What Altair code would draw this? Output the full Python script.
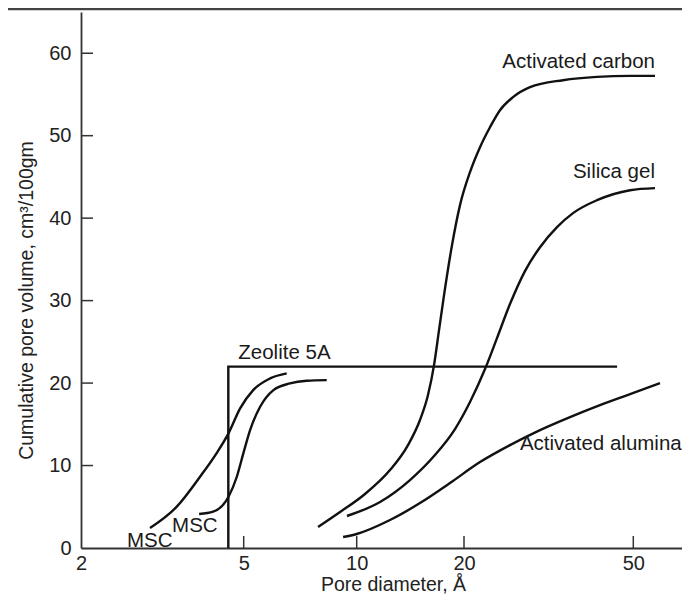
import altair as alt
import pandas as pd

# ---- data (pore diameter in Å, cumulative volume cm3/100 g) ----
x_ticks = [2, 5, 10, 20, 50]
y_ticks = [0, 10, 20, 30, 40, 50, 60]

carbon_d = [7.89, 9.03, 10.55, 12.40, 13.93, 15.05, 15.85, 16.48, 17.02, 17.58, 18.51,
            19.49, 20.66, 21.81, 23.02, 24.30, 26.07, 28.59, 34.18, 41.08, 49.13, 56.23]
carbon_v = [2.55, 4.36, 6.55, 9.45, 12.48, 15.52, 18.55, 22.18, 26.42, 30.67, 36.73,
            41.58, 45.58, 48.61, 51.03, 53.09, 54.67, 55.88, 56.73, 57.13, 57.25, 57.25]

silica_d = [9.42, 11.63, 14.11, 16.58, 18.87, 20.66, 22.41, 23.91, 25.65, 27.82, 30.18,
            33.09, 36.08, 41.08, 49.13, 56.23]
silica_v = [3.88, 5.58, 8.24, 11.27, 14.42, 17.70, 21.70, 25.45, 29.58, 33.58, 36.48,
            38.91, 40.61, 42.18, 43.39, 43.64]

alumina_d = [9.20, 10.0, 12.40, 15.05, 18.27, 21.81, 25.65, 30.18, 35.50, 41.75, 49.13, 57.78]
alumina_v = [1.33, 1.70, 3.39, 5.45, 7.88, 10.42, 12.48, 14.30, 15.88, 17.33, 18.67, 20.0]

msc1_d = [2.95, 3.43, 3.91, 4.29, 4.59, 4.90, 5.30, 5.88, 6.51]
msc1_v = [2.42, 5.01, 8.64, 11.48, 13.90, 16.93, 19.15, 20.57, 21.18]

msc2_d = [3.89, 4.21, 4.59, 4.81, 4.99, 5.20, 5.53, 6.00, 6.64, 7.36, 8.32]
msc2_v = [4.12, 4.40, 6.22, 8.64, 11.48, 14.30, 17.13, 19.15, 19.96, 20.28, 20.36]

zeolite_d = [4.585, 4.585, 45.8]
zeolite_v = [0, 22, 22]

label_text = ["Activated carbon", "Silica gel", "Activated alumina"]
label_d = [56.23, 56.23, 65.0]
label_v = [58.18, 44.85, 11.88]

label2_text = ["Zeolite 5A", "MSC", "MSC"]
label2_d = [4.85, 2.59, 3.34]
label2_v = [22.91, 0.16, 1.98]

# ---- tables ----
rows = []
for name, ds, vs in [("Activated carbon", carbon_d, carbon_v),
                     ("Silica gel", silica_d, silica_v),
                     ("Activated alumina", alumina_d, alumina_v),
                     ("MSC 1", msc1_d, msc1_v),
                     ("MSC 2", msc2_d, msc2_v)]:
    for i, (d, v) in enumerate(zip(ds, vs)):
        rows.append({"series": name, "i": i, "d": d, "v": v})
curves = pd.DataFrame(rows)
zeo = pd.DataFrame({"series": "Zeolite 5A", "i": list(range(len(zeolite_d))),
                    "d": zeolite_d, "v": zeolite_v})
lab1 = pd.DataFrame({"label": label_text, "d": label_d, "v": label_v})
lab2 = pd.DataFrame({"label": label2_text, "d": label2_d, "v": label2_v})
xt = pd.DataFrame({"d": x_ticks[1:], "v": 0.0, "v2": 1.45})
yt = pd.DataFrame({"v": y_ticks[1:], "d": 2.0, "d2": 2.14})

FONT = "Liberation Sans"
INK = "#111111"

# hand-drawn log axis of the original: tick positions calibrated piecewise
x_scale = alt.Scale(type="log", domain=[2, 5, 10, 20, 50, 65.1],
                    range=[0, 162.7, 275.7, 383, 552.3, 601], nice=False)
y_scale = alt.Scale(domain=[0, 65], nice=False)

x_axis = alt.Axis(values=x_ticks, format="d", title="Pore diameter, Å", grid=False,
                  ticks=False, tickSize=0, labelFlush=False, labelOverlap=False,
                  labelPadding=5, labelFontSize=20, labelFont=FONT, labelColor="#222222",
                  domainColor="#333333", domainWidth=1.8,
                  titleFont=FONT, titleFontSize=19.5, titleFontWeight="normal",
                  titleColor="#222222", titleX=312, titleY=42.8, titleBaseline="alphabetic",
                  titleAlign="center")
y_axis = alt.Axis(values=y_ticks, format="d", title="Cumulative pore volume, cm³/100gm",
                  grid=False, ticks=False, tickSize=0, labelPadding=10, labelFontSize=20,
                  labelFont=FONT, labelColor="#222222", domainColor="#333333",
                  domainWidth=1.8, titleFont=FONT, titleFontSize=19.5,
                  titleFontWeight="normal", titleColor="#222222", titleX=-49, titleY=288,
                  titleAngle=270, titleAlign="center", titleBaseline="alphabetic")


def X(field="d"):
    return alt.X(field, type="quantitative", scale=x_scale, axis=x_axis)


def Y(field="v"):
    return alt.Y(field, type="quantitative", scale=y_scale, axis=y_axis)


curve_layer = alt.Chart(curves).mark_line(
    color=INK, strokeWidth=2.4, interpolate="monotone"
).encode(x=X(), y=Y(), detail="series:N", order="i:Q")

zeo_layer = alt.Chart(zeo).mark_line(color=INK, strokeWidth=2.4).encode(
    x=X(), y=Y(), order="i:Q")

xtick_layer = alt.Chart(xt).mark_rule(color="#333333", strokeWidth=1.5).encode(
    x=X(), y=Y(), y2="v2")
ytick_layer = alt.Chart(yt).mark_rule(color="#333333", strokeWidth=1.5).encode(
    y=Y(), x=X(), x2="d2")

text_right = alt.Chart(lab1).mark_text(
    align="right", baseline="alphabetic", font=FONT, fontSize=20.5, color="#1a1a1a"
).encode(x=X(), y=Y(), text="label:N")
text_left = alt.Chart(lab2).mark_text(
    align="left", baseline="alphabetic", font=FONT, fontSize=20.5, color="#1a1a1a"
).encode(x=X(), y=Y(), text="label:N")

top_rule = alt.Chart(pd.DataFrame({"k": [0]})).mark_rule(
    color="#444444", strokeWidth=2.5
).encode(x=alt.value(-73), x2=alt.value(601), y=alt.value(-3))

chart = alt.layer(
    curve_layer, zeo_layer, xtick_layer, ytick_layer, text_right, text_left, top_rule
).properties(
    width=601, height=536,
    padding={"left": 73, "top": 4, "right": 0, "bottom": 47},
    autosize=alt.AutoSizeParams(type="none"),
    background="white",
).configure_view(stroke=None)

chart.save("out.html", embed_options={"renderer": "svg", "actions": False})
